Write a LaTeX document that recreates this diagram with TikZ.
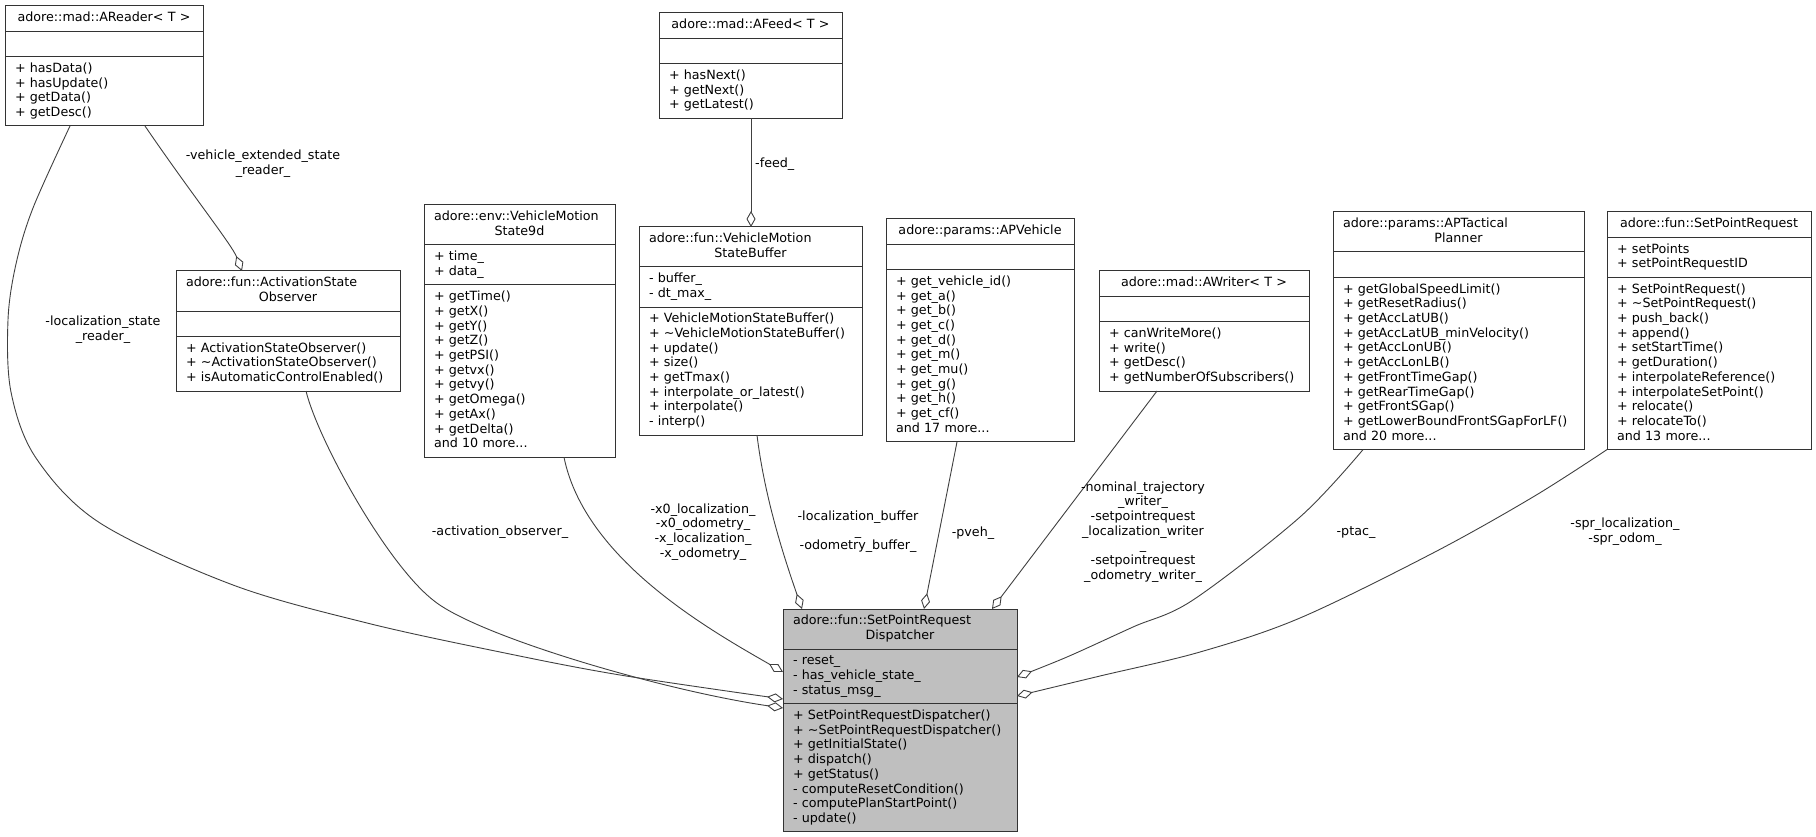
\documentclass[tikz,border=0pt]{standalone}
\usepackage{fontspec}
\setmainfont{DejaVu Sans}
\usetikzlibrary{arrows.meta,calc,fit}
\definecolor{boxc}{HTML}{333333}
\definecolor{edgec}{HTML}{404040}
\definecolor{hil}{HTML}{BFBFBF}
\newcommand{\ms}{\rule[-4.2pt]{0pt}{14.7pt}}
\newlength{\twl}
\newcommand{\fl}[1]{\makebox[\twl][l]{#1}}
\tikzset{
  part/.style={draw=boxc, line width=1pt, inner xsep=10pt, inner ysep=5.3pt, outer sep=0pt,
    font=\fontsize{12.7}{14.7}\selectfont},
  lbl/.style={font=\fontsize{12.7}{14.7}\selectfont, align=center, inner sep=0pt},
  edge/.style={draw=edgec, line width=0.9pt,
    -{Diamond[open, fill=white, length=16pt, width=9pt]}},
}
\newcommand{\umlclass}[8]{%
  \pgfmathsetlength{\twl}{#4-20}%
  \node[part, fill=#5, minimum width=#4pt, text width=\twl, align=center, anchor=north west] (#1-t) at (#2,#3) {\ms#6\ms};
  \node[part, fill=#5, minimum width=#4pt, text width=\twl, align=left, anchor=north] (#1-a) at (#1-t.south) {\ms#7\ms};
  \node[part, fill=#5, minimum width=#4pt, text width=\twl, align=left, anchor=north] (#1-m) at (#1-a.south) {\ms#8\ms};
  \node[draw=boxc, line width=1pt, inner sep=0pt, outer sep=0pt, fit=(#1-t)(#1-m)] (#1) {};
}
\begin{document}
\begin{tikzpicture}[x=1pt,y=-1pt]
\useasboundingbox (0,0) rectangle (1816,837);

\umlclass{areader}{5}{6}{198}{white}{adore::mad::AReader< T >}{}{+ hasData()\\+ hasUpdate()\\+ getData()\\+ getDesc()}
\umlclass{activation}{176}{271}{224}{white}{\fl{adore::fun::ActivationState}\\Observer}{}{+ ActivationStateObserver()\\+ \textasciitilde ActivationStateObserver()\\+ isAutomaticControlEnabled()}
\umlclass{vms}{424}{205}{191}{white}{\fl{adore::env::VehicleMotion}\\State9d}{+ time\_\\+ data\_}{+ getTime()\\+ getX()\\+ getY()\\+ getZ()\\+ getPSI()\\+ getvx()\\+ getvy()\\+ getOmega()\\+ getAx()\\+ getDelta()\\and 10 more...}
\umlclass{afeed}{659}{13}{183}{white}{adore::mad::AFeed< T >}{}{+ hasNext()\\+ getNext()\\+ getLatest()}
\umlclass{buffer}{639}{227}{223}{white}{\fl{adore::fun::VehicleMotion}\\StateBuffer}{- buffer\_\\- dt\_max\_}{+ VehicleMotionStateBuffer()\\+ \textasciitilde VehicleMotionStateBuffer()\\+ update()\\+ size()\\+ getTmax()\\+ interpolate\_or\_latest()\\+ interpolate()\\- interp()}
\umlclass{apveh}{886}{219}{188}{white}{adore::params::APVehicle}{}{+ get\_vehicle\_id()\\+ get\_a()\\+ get\_b()\\+ get\_c()\\+ get\_d()\\+ get\_m()\\+ get\_mu()\\+ get\_g()\\+ get\_h()\\+ get\_cf()\\and 17 more...}
\umlclass{awriter}{1099}{271}{210}{white}{adore::mad::AWriter< T >}{}{+ canWriteMore()\\+ write()\\+ getDesc()\\+ getNumberOfSubscribers()}
\umlclass{aptac}{1333}{212}{251}{white}{\fl{adore::params::APTactical}\\Planner}{}{+ getGlobalSpeedLimit()\\+ getResetRadius()\\+ getAccLatUB()\\+ getAccLatUB\_minVelocity()\\+ getAccLonUB()\\+ getAccLonLB()\\+ getFrontTimeGap()\\+ getRearTimeGap()\\+ getFrontSGap()\\+ getLowerBoundFrontSGapForLF()\\and 20 more...}
\umlclass{spr}{1607}{212}{204}{white}{adore::fun::SetPointRequest}{+ setPoints\\+ setPointRequestID}{+ SetPointRequest()\\+ \textasciitilde SetPointRequest()\\+ push\_back()\\+ append()\\+ setStartTime()\\+ getDuration()\\+ interpolateReference()\\+ interpolateSetPoint()\\+ relocate()\\+ relocateTo()\\and 13 more...}
\umlclass{disp}{783}{609}{234}{hil}{\fl{adore::fun::SetPointRequest}\\Dispatcher}{- reset\_\\- has\_vehicle\_state\_\\- status\_msg\_}{+ SetPointRequestDispatcher()\\+ \textasciitilde SetPointRequestDispatcher()\\+ getInitialState()\\+ dispatch()\\+ getStatus()\\- computeResetCondition()\\- computePlanStartPoint()\\- update()}

% edges
\draw[edge] ($(areader.south west)+(140,0)$) .. controls (190,192) and (232,245) .. ($(activation.north west)+(66,0)$);
\draw[edge] plot[smooth, tension=0.55] coordinates {($(areader.south west)+(65,0)$) (33,208) (16,264) (8,320) (11,392) (36,458) (100,523) (233,585) (367,623) (500,652) (620,675) ($(disp.north west)+(0,90)$)};
\draw[edge] ($(activation.south west)+(130,0)$) .. controls (318,440) and (386,563) .. (433,600) .. controls (475,635) and (660,690) .. ($(disp.north west)+(0,99)$);
\draw[edge] ($(vms.south west)+(140,0)$) .. controls (585,560) and (710,630) .. ($(disp.north west)+(0,63)$);
\draw[edge] ($(afeed.south west)+(92,0)$) -- ($(buffer.north west)+(112,0)$);
\draw[edge] ($(buffer.south west)+(118,0)$) .. controls (765,500) and (785,560) .. ($(disp.north west)+(19,0)$);
\draw[edge] ($(apveh.south west)+(71,0)$) -- ($(disp.north west)+(141,0)$);
\draw[edge] ($(awriter.south west)+(58,0)$) -- ($(disp.north west)+(209,0)$);
\draw[edge] plot[smooth, tension=0.55] coordinates {($(aptac.south west)+(30,0)$) (1300,517) (1193,600) (1133,627) (1067,657) ($(disp.north east)+(0,68)$)};
\draw[edge] plot[smooth, tension=0.55] coordinates {(spr.south west) (1533,497) (1433,553) (1300,618) (1200,652) (1100,676) ($(disp.north east)+(0,87)$)};

% labels
\node[lbl] (l1) at (263,164) {\ms-vehicle\_extended\_state\\\_reader\_\ms};
\node[lbl] (l2) at (103,330) {\ms-localization\_state\\\_reader\_\ms};
\node[lbl] (l3) at (500,532) {\ms-activation\_observer\_\ms};
\node[lbl] (l4) at (703,532) {\ms-x0\_localization\_\\-x0\_odometry\_\\-x\_localization\_\\-x\_odometry\_\ms};
\node[lbl] (l5) at (858,532) {\ms-localization\_buffer\\\_\\-odometry\_buffer\_\ms};
\node[lbl] (l6) at (973,533) {\ms-pveh\_\ms};
\node[lbl] (l7) at (1143,532) {\ms-nominal\_trajectory\\\_writer\_\\-setpointrequest\\\_localization\_writer\\\_\\-setpointrequest\\\_odometry\_writer\_\ms};
\node[lbl, anchor=west] (l8) at (755,164) {\ms-feed\_\ms};
\node[lbl] (l9) at (1356,532) {\ms-ptac\_\ms};
\node[lbl] (l10) at (1625,532) {\ms-spr\_localization\_\\-spr\_odom\_\ms};
\end{tikzpicture}
\end{document}
